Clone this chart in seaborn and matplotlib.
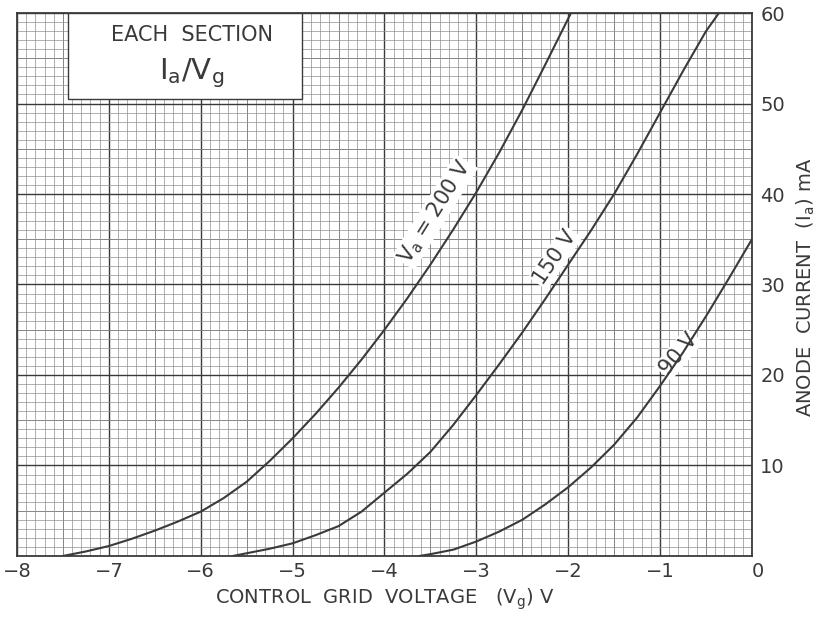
import numpy as np
import pandas as pd
import seaborn as sns
import matplotlib.pyplot as plt
from matplotlib.patches import Rectangle

# valve characteristic Ia/Vg
vg_200 = [-7.5, -7.25, -7.0, -6.75, -6.5, -6.25, -6.0, -5.75, -5.5, -5.25, -5.0, -4.75,
          -4.5, -4.25, -4.0, -3.75, -3.5, -3.25, -3.0, -2.75, -2.5, -2.25, -1.97]
ia_200 = [0, 0.5, 1.1, 1.9, 2.8, 3.8, 4.9, 6.4, 8.2, 10.5, 13.0, 15.7,
          18.6, 21.7, 25.0, 28.5, 32.2, 36.1, 40.2, 44.6, 49.3, 54.3, 60]

vg_150 = [-5.65, -5.5, -5.25, -5.0, -4.75, -4.5, -4.25, -4.0, -3.75, -3.5, -3.25, -3.0,
          -2.75, -2.5, -2.25, -2.0, -1.75, -1.5, -1.25, -1.0, -0.75, -0.5, -0.36]
ia_150 = [0, 0.3, 0.8, 1.4, 2.3, 3.3, 4.9, 7.0, 9.1, 11.5, 14.5, 17.8,
          21.2, 24.7, 28.4, 32.2, 36.0, 40.0, 44.4, 49.0, 53.6, 58.0, 60]

vg_90 = [-3.62, -3.5, -3.25, -3.0, -2.75, -2.5, -2.25, -2.0, -1.75, -1.5, -1.25, -1.0,
         -0.75, -0.5, -0.25, 0]
ia_90 = [0, 0.2, 0.7, 1.6, 2.7, 4.0, 5.7, 7.6, 9.8, 12.3, 15.3, 18.8,
         22.5, 26.5, 30.7, 35.0]

x_ticks = [-8, -7, -6, -5, -4, -3, -2, -1, 0]
x_labels = ['\u22128', '\u22127', '\u22126', '\u22125', '\u22124', '\u22123', '\u22122', '\u22121', '0']
y_ticks = [10, 20, 30, 40, 50, 60]

df = pd.concat([
    pd.DataFrame({'Vg': vg_200, 'Ia': ia_200, 'Va': '200'}),
    pd.DataFrame({'Vg': vg_150, 'Ia': ia_150, 'Va': '150'}),
    pd.DataFrame({'Vg': vg_90, 'Ia': ia_90, 'Va': '90'}),
])

sns.set_theme(style='white')
plt.rcParams['font.family'] = ['DejaVu Sans']
ink = '#3a3a3a'

fig = plt.figure(figsize=(8.24, 6.17), dpi=100)
ax = fig.add_axes([0.0206, 0.0989, 0.892, 0.880])

sns.lineplot(data=df, x='Vg', y='Ia', hue='Va', units='Va', estimator=None, sort=False,
             palette=[ink, ink, ink], legend=False, linewidth=1.5, ax=ax, zorder=5)
for ln in ax.get_lines():
    ln.set_solid_joinstyle('round')

ax.set_xlim(-8, 0)
ax.set_ylim(0, 60)

# graph paper
ax.set_xticks(np.arange(-8, 0.01, 0.1), minor=True)
ax.set_yticks(np.arange(0, 60.1, 1), minor=True)
ax.grid(which='minor', color='#909090', linewidth=0.5, zorder=0)
ax.grid(which='major', color='#3a3a3a', linewidth=1.0, zorder=1)
for xv in np.arange(-7.5, 0, 1):
    ax.axvline(xv, color='#707070', linewidth=0.7, zorder=0.5)
for yv in np.arange(5, 60, 10):
    ax.axhline(yv, color='#707070', linewidth=0.7, zorder=0.5)
ax.set_axisbelow(True)

ax.set_xticks(x_ticks)
ax.set_xticklabels(x_labels)
ax.yaxis.tick_right()
ax.set_yticks(y_ticks)
ax.set_yticklabels([str(v) for v in y_ticks])
ax.tick_params(axis='both', which='both', length=0, colors=ink, labelsize=14)
ax.tick_params(axis='x', pad=4)
ax.tick_params(axis='y', pad=6)
for lbl in ax.get_xticklabels():
    if lbl.get_text() == '0':
        lbl.set_horizontalalignment('left')
for sp in ax.spines.values():
    sp.set_color(ink)
    sp.set_linewidth(1.3)
ax.set_xlabel('')
ax.set_ylabel('')

# title box
ax.add_patch(Rectangle((-7.45, 50.5), 2.55, 9.5, facecolor='white', edgecolor=ink,
                       linewidth=1.0, zorder=6))
ax.text(-6.1, 57.6, 'EACH  SECTION', ha='center', va='center', fontsize=15,
        color=ink, zorder=7)
ax.text(-6.1, 53.3, r'I$_\mathrm{a}$/V$_\mathrm{g}$', ha='center', va='center',
        fontsize=21, color=ink, zorder=7)

# curve labels
box = dict(facecolor='white', edgecolor='none', pad=1.0)
ax.text(-3.45, 38.0, r'V$_\mathrm{a}$ = 200 V', rotation=58, ha='center', va='center',
        fontsize=15, color=ink, bbox=box, zorder=4)
ax.text(-2.14, 33.0, '150 V', rotation=56, ha='center', va='center',
        fontsize=15, color=ink, bbox=box, zorder=4)
ax.text(-0.8, 22.3, '90 V', rotation=50, ha='center', va='center',
        fontsize=15, color=ink, bbox=box, zorder=4)

fig.text(0.467, 0.028, r'CONTROL  GRID  VOLTAGE   (V$_\mathrm{g}$) V', ha='center',
         va='center', fontsize=14, color=ink)
fig.text(0.978, 0.535, r'ANODE  CURRENT  (I$_\mathrm{a}$) mA', ha='center', va='center',
         rotation=90, fontsize=14, color=ink)

fig.savefig('out.png', dpi=100, facecolor='white')
